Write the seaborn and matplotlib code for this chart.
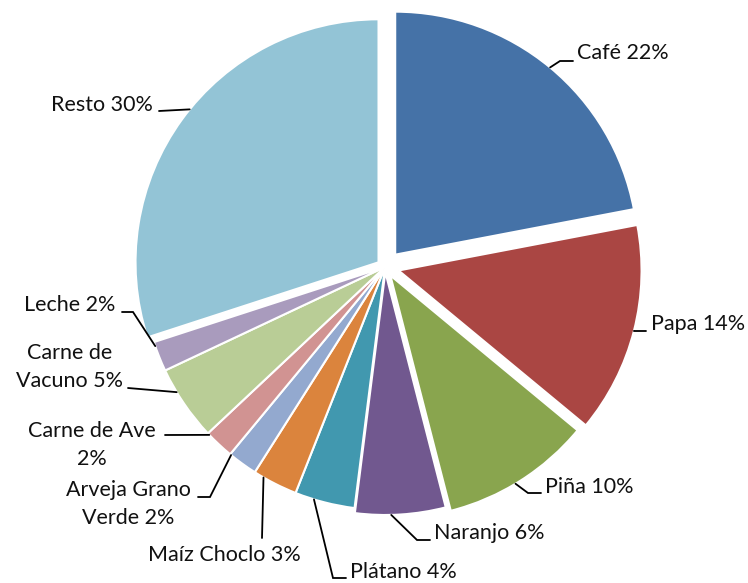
import numpy as np
import matplotlib
matplotlib.use("Agg")
import matplotlib.pyplot as plt
import seaborn as sns

# Datos del gráfico
categorias = ["Café", "Papa", "Piña", "Naranjo", "Plátano", "Maíz Choclo",
              "Arveja Grano Verde", "Carne de Ave", "Carne de Vacuno", "Leche", "Resto"]
porcentajes = [22, 14, 10, 6, 4, 3, 2, 2, 5, 2, 30]
etiquetas = ["Café 22%", "Papa 14%", "Piña 10%", "Naranjo 6%", "Plátano 4%",
             "Maíz Choclo 3%", "Arveja Grano\nVerde 2%", "Carne de Ave\n2%",
             "Carne de\nVacuno 5%", "Leche 2%", "Resto 30%"]
colores = ["#4572A7", "#AA4643", "#89A54E", "#71588F", "#4198AF", "#DB843D",
           "#93A9CF", "#D19392", "#B9CD96", "#A99BBD", "#93C4D6"]

# desplazamiento de las porciones (pixeles)
separacion = [16, 14, 10, 5, 0, 0, 0, 0, 0, 0, 8]

# posiciones de las etiquetas (pixeles de la imagen):
# angulo del ancla, texto, codo, fin de linea, alineacion
W, H = 748, 583
layout = [
    (None, (577, 53), (560, 61), (573, 61), "left"),
    (None, (651, 324), (634, 331), (646, 331), "left"),
    (-59, (545, 487), (528, 493), (541, 493), "left"),
    (-88.6, (434, 533), (417, 540), (430, 540), "left"),
    (-107, (350, 572), (333, 578), (346, 578), "left"),
    (-120, (224, 555), (262, 538), (262, 538), "center"),
    (-129.3, (128, 504), (210, 497), (198, 497), "center"),
    (-136.3, (92, 445), (165, 435), (165, 435), "center"),
    (-149, (70, 367), (128, 388), (128, 388), "center"),
    (-161, (70, 305), (133, 312), (122, 312), "center"),
    (141, (102, 105), (159, 111), (159, 111), "center"),
]

sns.set_style("white")
plt.rcParams["font.family"] = ["Lato", "DejaVu Sans"]

fig = plt.figure(figsize=(W / 100, H / 100), dpi=100)
ax = fig.add_axes([0, 0, 1, 1])

cx, cy, r = 385, H - 267, 243
wedges, _ = ax.pie(porcentajes, colors=colores, startangle=90, counterclock=False,
                   explode=separacion, center=(cx, cy), radius=r,
                   wedgeprops=dict(edgecolor="white", linewidth=1.5), frame=True)
ax.set_xlim(0, W)
ax.set_ylim(0, H)
ax.set_aspect("equal")
ax.axis("off")

for w, txt, (ang, pos, codo, fin, al) in zip(wedges, etiquetas, layout):
    if ang is None:
        ang = (w.theta1 + w.theta2) / 2
    ang = np.deg2rad(ang)
    wx, wy = w.center
    x0 = wx + w.r * np.cos(ang)
    y0 = wy + w.r * np.sin(ang)
    ax.plot([x0, codo[0], fin[0]], [y0, H - codo[1], H - fin[1]],
            color="black", lw=1.3, solid_joinstyle="miter")
    ax.text(pos[0], H - pos[1], txt, ha=al, va="center", fontsize=15.5,
            color="#111111", multialignment="center", linespacing=1.45)

fig.savefig("out.png", dpi=100)
